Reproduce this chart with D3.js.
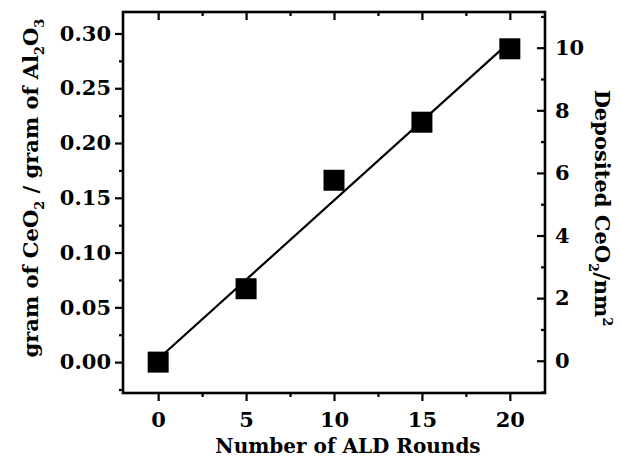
<!DOCTYPE html>
<html>
<head>
<meta charset="utf-8">
<script src="https://cdn.jsdelivr.net/npm/d3@7"></script>
<style>
  body { margin: 0; background: #fff; }
  text { font-family: "DejaVu Serif", serif; font-weight: bold; fill: #000; }
</style>
</head>
<body>
<div id="vis"></div>
<script>
const rounds = [0, 5, 10, 15, 20];
const gramRatio = [0.000, 0.067, 0.166, 0.219, 0.286];

const xTicks = [0, 5, 10, 15, 20];
const xMinor = [2.5, 7.5, 12.5, 17.5];
const yLeftTicks = [0, 0.05, 0.10, 0.15, 0.20, 0.25, 0.30];
const yLeftMinor = [-0.025, 0.025, 0.075, 0.125, 0.175, 0.225, 0.275];
const yRightTicks = [0, 2, 4, 6, 8, 10];
const yRightMinor = [-1, 1, 3, 5, 7, 9, 11];

const W = 621, H = 459;
const plot = { left: 123, right: 545, top: 12, bottom: 393 };

const svg = d3.select("#vis").append("svg")
  .attr("width", W)
  .attr("height", H);

const x = d3.scaleLinear().domain([-2, 22]).range([plot.left, plot.right]);
const yL = d3.scaleLinear().domain([-0.0282, 0.3196]).range([plot.bottom, plot.top]);
const yR = d3.scaleLinear().domain([-1.03, 11.14]).range([plot.bottom, plot.top]);

const tickFont = "21px";

function styleAxis(g) {
  g.select(".domain").remove();
  g.selectAll(".tick line").attr("stroke", "#000").attr("stroke-width", 2.2);
  g.selectAll(".tick text").style("font-size", tickFont).style("font-family", "DejaVu Serif").style("font-weight", "bold");
}

// bottom axis (ticks out)
svg.append("g")
  .attr("transform", `translate(0,${plot.bottom})`)
  .call(d3.axisBottom(x).tickValues(xTicks).tickSize(8).tickPadding(11).tickFormat(d3.format("d")))
  .call(styleAxis);
svg.append("g")
  .attr("transform", `translate(0,${plot.bottom})`)
  .call(d3.axisBottom(x).tickValues(xMinor).tickSize(4).tickFormat(""))
  .call(styleAxis);

// top axis (ticks in)
svg.append("g")
  .attr("transform", `translate(0,${plot.top})`)
  .call(d3.axisTop(x).tickValues(xTicks).tickSize(-8).tickFormat(""))
  .call(styleAxis);
svg.append("g")
  .attr("transform", `translate(0,${plot.top})`)
  .call(d3.axisTop(x).tickValues(xMinor).tickSize(-4).tickFormat(""))
  .call(styleAxis);

// left axis (ticks out)
svg.append("g")
  .attr("transform", `translate(${plot.left},0)`)
  .call(d3.axisLeft(yL).tickValues(yLeftTicks).tickSize(8).tickPadding(4).tickFormat(d3.format(".2f")))
  .call(styleAxis);
svg.append("g")
  .attr("transform", `translate(${plot.left},0)`)
  .call(d3.axisLeft(yL).tickValues(yLeftMinor).tickSize(4).tickFormat(""))
  .call(styleAxis);

// right axis (ticks in)
svg.append("g")
  .attr("transform", `translate(${plot.right},0)`)
  .call(d3.axisRight(yR).tickValues(yRightTicks).tickSize(-8).tickPadding(10).tickFormat(d3.format("d")))
  .call(styleAxis);
svg.append("g")
  .attr("transform", `translate(${plot.right},0)`)
  .call(d3.axisRight(yR).tickValues(yRightMinor).tickSize(-4).tickFormat(""))
  .call(styleAxis);

// frame
svg.append("rect")
  .attr("x", plot.left)
  .attr("y", plot.top)
  .attr("width", plot.right - plot.left)
  .attr("height", plot.bottom - plot.top)
  .attr("fill", "none")
  .attr("stroke", "#000")
  .attr("stroke-width", 2.6);

// linear fit through the points
const pts = rounds.map((r, i) => ({ x: r, y: gramRatio[i] }));
const mx = d3.mean(pts, d => d.x), my = d3.mean(pts, d => d.y);
const slope = d3.sum(pts, d => (d.x - mx) * (d.y - my)) / d3.sum(pts, d => (d.x - mx) ** 2);
const icpt = my - slope * mx;
const fitX = [d3.min(rounds), d3.max(rounds)];

svg.append("path")
  .datum(fitX)
  .attr("fill", "none")
  .attr("stroke", "#000")
  .attr("stroke-width", 2.2)
  .attr("d", d3.line().x(d => x(d)).y(d => yL(icpt + slope * d)));

// markers
const sz = 21;
svg.selectAll("rect.pt")
  .data(pts)
  .join("rect")
  .attr("class", "pt")
  .attr("x", d => x(d.x) - sz / 2)
  .attr("y", d => yL(d.y) - sz / 2)
  .attr("width", sz)
  .attr("height", sz)
  .attr("fill", "#000");

// axis titles
svg.append("text")
  .attr("x", 348)
  .attr("y", 453)
  .attr("text-anchor", "middle")
  .style("font-size", "20px")
  .text("Number of ALD Rounds");

const leftTitle = svg.append("text")
  .attr("transform", "translate(38,188) rotate(-90)")
  .attr("text-anchor", "middle")
  .style("font-size", "21px");
leftTitle.append("tspan").text("gram of CeO");
leftTitle.append("tspan").attr("dy", 6).style("font-size", "13px").text("2");
leftTitle.append("tspan").attr("dy", -6).text(" / gram of Al");
leftTitle.append("tspan").attr("dy", 6).style("font-size", "13px").text("2");
leftTitle.append("tspan").attr("dy", -6).text("O");
leftTitle.append("tspan").attr("dy", 6).style("font-size", "13px").text("3");

const rightTitle = svg.append("text")
  .attr("transform", "translate(595,208) rotate(90)")
  .attr("text-anchor", "middle")
  .style("font-size", "21px");
rightTitle.append("tspan").text("Deposited CeO");
rightTitle.append("tspan").attr("dy", 6).style("font-size", "13px").text("2");
rightTitle.append("tspan").attr("dy", -6).text("/nm");
rightTitle.append("tspan").attr("dy", -8).style("font-size", "13px").text("2");
</script>
</body>
</html>
